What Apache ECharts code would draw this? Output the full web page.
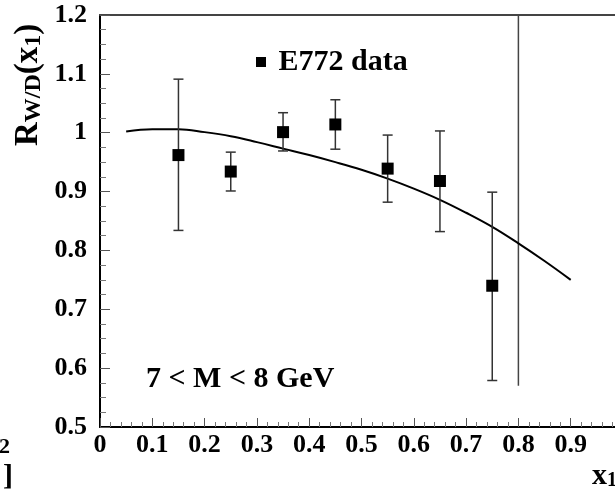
<!DOCTYPE html>
<html>
<head>
<meta charset="utf-8">
<script src="https://cdn.jsdelivr.net/npm/echarts@6/dist/echarts.min.js"></script>
<style>html,body{margin:0;padding:0;background:#fff;}#c{width:615px;height:495px;}</style>
</head>
<body>
<div id="c"></div>
<script>
// data
const pointX = [0.15, 0.25, 0.35, 0.45, 0.55, 0.65, 0.75];
const pointY = [0.962, 0.934, 1.001, 1.014, 0.939, 0.918, 0.740];
const errLow = [0.834, 0.901, 0.969, 0.972, 0.882, 0.832, 0.579];
const errHigh = [1.091, 0.967, 1.034, 1.056, 0.996, 1.003, 0.899];
const curveX = [0.05, 0.1, 0.15, 0.2, 0.25, 0.3, 0.35, 0.4, 0.45, 0.5, 0.55, 0.6, 0.65, 0.7, 0.75, 0.8, 0.85, 0.9];
const curveY = [1.002, 1.006, 1.006, 1.001, 0.994, 0.984, 0.973, 0.962, 0.950, 0.937, 0.922, 0.905, 0.886, 0.864, 0.840, 0.812, 0.782, 0.750];
const cutX = [0.8, 0.8];
const cutY = [0.57, 1.2];
const seriesName = 'E772 data';
const massLabel = '7 < M < 8 GeV';

const FONT = 'Liberation Serif';
const chart = echarts.init(document.getElementById('c'), null, {renderer: 'canvas'});

const option = {
  animation: false,
  backgroundColor: '#fff',
  grid: {left: 100, top: 15, right: -8, bottom: 68, show: false, containLabel: false, outerBoundsMode: 'none'},
  legend: {
    show: true, left: 251, top: 42, itemWidth: 10, itemHeight: 10,
    icon: 'rect', data: [seriesName],
    formatter: ' {name}',
    itemStyle: {color: '#000', opacity: 1},
    textStyle: {fontFamily: FONT, fontWeight: 'bold', fontSize: 30, color: '#000'}
  },
  xAxis: [{
    type: 'value', min: 0, max: 1, interval: 0.1,
    axisLine: {show: true, onZero: false, lineStyle: {color: '#000', width: 2}},
    axisTick: {show: true, inside: true, length: 9, lineStyle: {color: '#555', width: 1}},
    minorTick: {show: true, splitNumber: 5, length: 5, lineStyle: {color: '#777', width: 1}},
    splitLine: {show: false},
    axisLabel: {margin: 5, fontFamily: FONT, fontWeight: 'bold', fontSize: 26, color: '#000'}
  }, {
    type: 'value', min: 0, max: 1, position: 'top',
    axisLine: {show: true, onZero: false, lineStyle: {color: '#444', width: 2}},
    axisTick: {show: false}, axisLabel: {show: false}, splitLine: {show: false}
  }],
  yAxis: {
    type: 'value', min: 0.5, max: 1.2, interval: 0.1,
    axisLine: {show: true, onZero: false, lineStyle: {color: '#000', width: 2}},
    axisTick: {show: true, inside: true, length: 10, lineStyle: {color: '#555', width: 1}},
    minorTick: {show: true, splitNumber: 4, length: 6, lineStyle: {color: '#777', width: 1}},
    splitLine: {show: false},
    axisLabel: {margin: 13, fontFamily: FONT, fontWeight: 'bold', fontSize: 26, color: '#000'}
  },
  series: [
    {
      type: 'line', name: 'curve', data: curveX.map((x, i) => [x, curveY[i]]),
      showSymbol: false, smooth: 0.4, lineStyle: {color: '#000', width: 2}, z: 3
    },
    {
      type: 'line', name: 'cut', data: cutX.map((x, i) => [x, cutY[i]]),
      showSymbol: false, lineStyle: {color: '#444', width: 1.5}, z: 2
    },
    {
      type: 'custom', name: 'err',
      data: pointX.map((x, i) => [x, errLow[i], errHigh[i]]),
      renderItem: function (params, api) {
        const x = api.value(0);
        const lo = api.coord([x, api.value(1)]);
        const hi = api.coord([x, api.value(2)]);
        const hw = 5;
        const st = {stroke: '#333', lineWidth: 1.5};
        return {type: 'group', children: [
          {type: 'line', shape: {x1: lo[0], y1: lo[1], x2: hi[0], y2: hi[1]}, style: st},
          {type: 'line', shape: {x1: lo[0] - hw, y1: lo[1], x2: lo[0] + hw, y2: lo[1]}, style: st},
          {type: 'line', shape: {x1: hi[0] - hw, y1: hi[1], x2: hi[0] + hw, y2: hi[1]}, style: st}
        ]};
      },
      z: 4
    },
    {
      type: 'scatter', name: seriesName, data: pointX.map((x, i) => [x, pointY[i]]),
      symbol: 'rect', symbolSize: 12, itemStyle: {color: '#000', opacity: 1}, z: 5
    }
  ],
  graphic: [
    {
      type: 'text', left: 146, top: 364,
      style: {text: massLabel, fontFamily: FONT, fontWeight: 'bold', fontSize: 30, fill: '#000'}
    },
    {
      type: 'text', x: 12, y: 146, rotation: Math.PI / 2,
      style: {
        text: '{m|R}{s|W/D}{m|(x}{s|1}{m|)}',
        rich: {
          m: {fontFamily: FONT, fontWeight: 'bold', fontSize: 33, lineHeight: 34, fill: '#000', verticalAlign: 'top'},
          s: {fontFamily: FONT, fontWeight: 'bold', fontSize: 24, lineHeight: 24, fill: '#000', verticalAlign: 'bottom'}
        },
        lineHeight: 43
      }
    },
    {
      type: 'text', left: 592, top: 461,
      style: {
        text: '{m|x}{s|1}',
        rich: {
          m: {fontFamily: FONT, fontWeight: 'bold', fontSize: 30, lineHeight: 30, fill: '#000', verticalAlign: 'top'},
          s: {fontFamily: FONT, fontWeight: 'bold', fontSize: 20, lineHeight: 20, fill: '#000', verticalAlign: 'bottom'}
        },
        lineHeight: 36
      }
    },
    {
      type: 'text', left: -1, top: 436,
      style: {text: '2', fontFamily: FONT, fontWeight: 'bold', fontSize: 22, fill: '#000'}
    },
    {
      type: 'text', left: 3, top: 462,
      style: {text: ']', fontFamily: FONT, fontWeight: 'bold', fontSize: 30, fill: '#000'}
    }
  ]
};
chart.setOption(option);
</script>
</body>
</html>
